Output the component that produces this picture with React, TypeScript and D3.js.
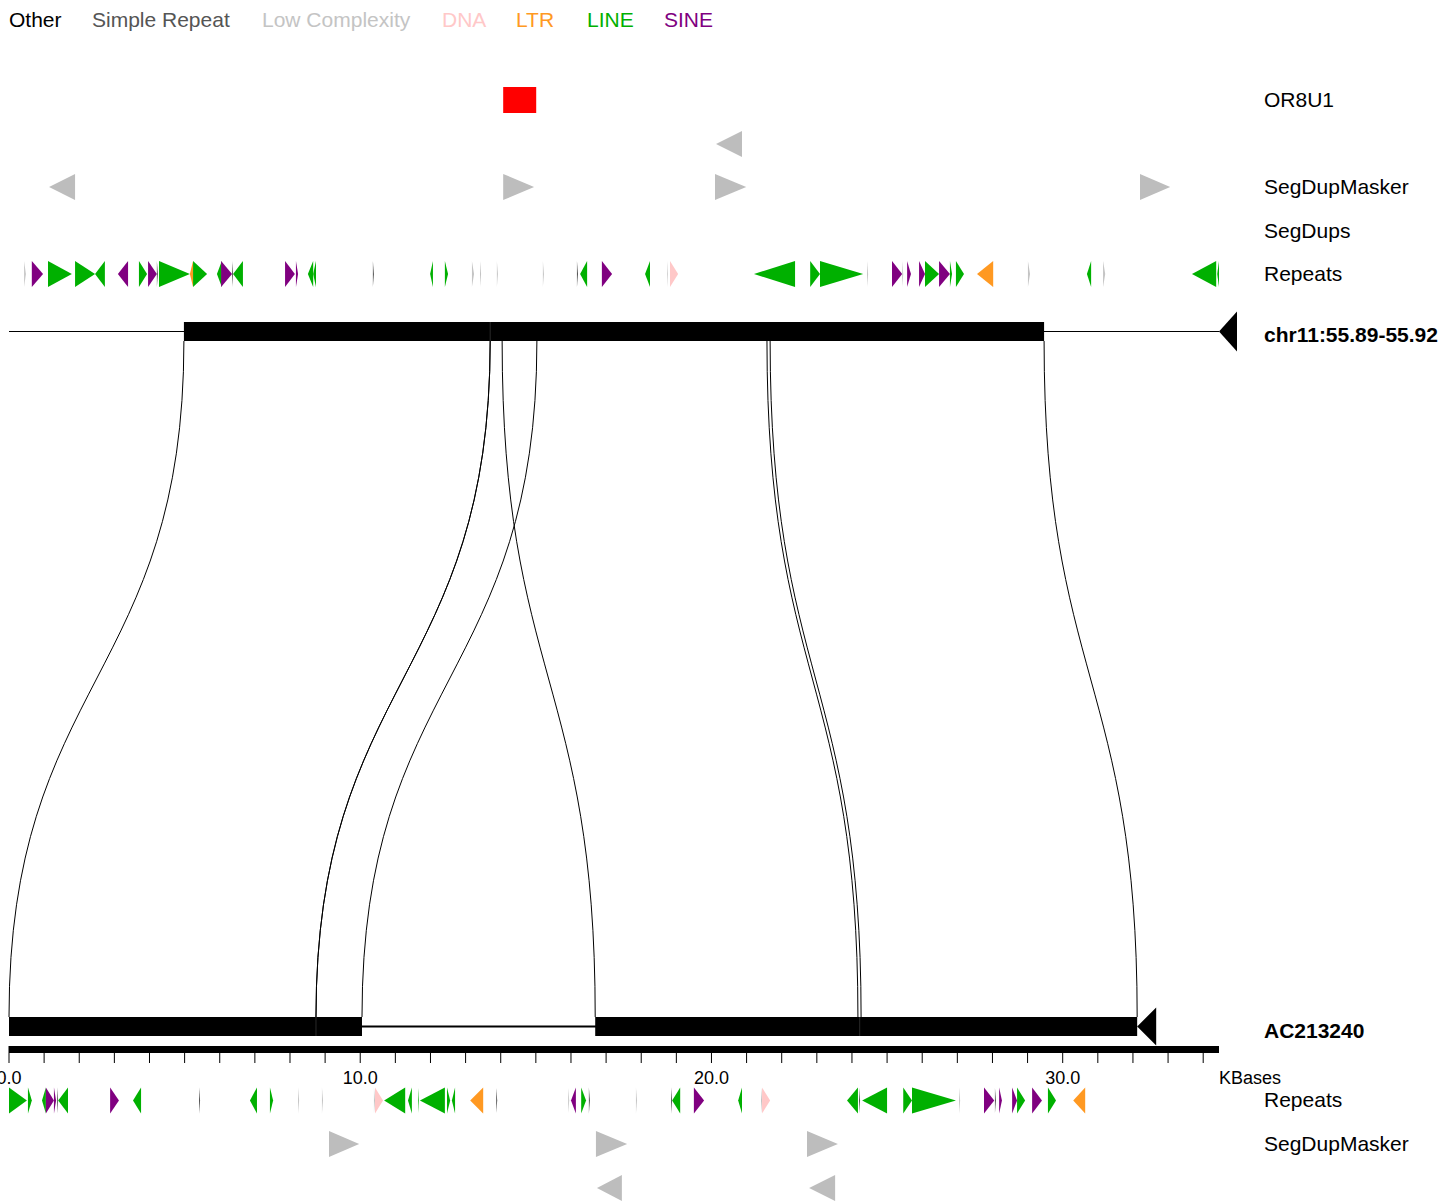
import React from "react";
import * as d3 from "d3";

// ---------- data (kb) ----------
const legendNames = ["Other", "Simple Repeat", "Low Complexity", "DNA", "LTR", "LINE", "SINE"];
const legendColors = ["#000000", "#555555", "#c4c4c4", "#ffc8c8", "#ff9922", "#00b000", "#800080"];
const legendKeys = ["other", "simple", "low", "dna", "ltr", "line", "sine"];

const topLength = 34.45;
const bottomLength = 32.12;
const axisMax = 34.45;
const axisTicks = d3.range(0, 35, 1);
const axisLabels = [0, 10, 20, 30];

// [start, end, strand, type]
const topRepeats: [number, number, string, string][] = [
  [0.43, 0.48, "+", "low"], [0.65, 0.97, "+", "sine"], [1.11, 1.79, "+", "line"], [1.88, 2.45, "+", "line"],
  [2.45, 2.73, "-", "line"], [3.10, 3.39, "-", "sine"], [3.70, 3.93, "+", "line"], [3.96, 4.21, "+", "sine"],
  [4.21, 4.24, "+", "simple"], [4.27, 5.15, "+", "line"], [5.15, 5.24, "-", "ltr"], [5.24, 5.64, "+", "line"],
  [5.92, 6.06, "-", "line"], [6.04, 6.35, "+", "sine"], [6.35, 6.38, "+", "simple"], [6.38, 6.66, "-", "line"],
  [7.86, 8.14, "+", "sine"], [8.17, 8.23, "+", "sine"], [8.51, 8.66, "-", "line"], [8.66, 8.74, "-", "line"],
  [10.36, 10.39, "+", "simple"], [11.99, 12.07, "-", "line"], [12.41, 12.50, "+", "line"], [13.18, 13.24, "+", "low"],
  [13.41, 13.44, "+", "low"], [13.89, 13.92, "+", "low"], [15.20, 15.23, "+", "low"], [16.17, 16.20, "+", "simple"],
  [16.26, 16.46, "-", "line"], [16.88, 17.17, "+", "sine"], [18.11, 18.25, "-", "line"], [18.74, 18.76, "+", "low"],
  [18.82, 19.05, "+", "dna"], [21.21, 22.38, "-", "line"], [22.81, 23.09, "+", "line"], [23.09, 24.32, "+", "line"],
  [24.43, 24.46, "+", "low"], [25.14, 25.43, "+", "sine"], [25.43, 25.46, "+", "low"], [25.57, 25.68, "+", "sine"],
  [25.91, 26.08, "+", "sine"], [26.08, 26.48, "+", "line"], [26.48, 26.79, "+", "sine"], [26.79, 26.85, "+", "line"],
  [26.96, 27.19, "+", "line"], [27.56, 28.02, "-", "ltr"], [29.01, 29.07, "+", "low"], [30.69, 30.81, "-", "line"],
  [31.15, 31.21, "+", "low"], [33.68, 34.37, "-", "line"], [34.40, 34.45, "-", "line"],
];

const bottomRepeats: [number, number, string, string][] = [
  [0.00, 0.51, "+", "line"], [0.54, 0.65, "+", "line"], [0.94, 1.05, "-", "line"], [1.05, 1.28, "+", "sine"],
  [1.28, 1.34, "+", "sine"], [1.37, 1.40, "+", "simple"], [1.40, 1.68, "-", "line"], [2.88, 3.13, "+", "sine"],
  [3.53, 3.76, "-", "line"], [5.41, 5.44, "+", "simple"], [6.86, 7.06, "-", "line"], [7.43, 7.52, "+", "line"],
  [8.23, 8.26, "+", "low"], [8.91, 8.94, "+", "low"], [10.39, 10.42, "+", "low"], [10.42, 10.65, "+", "dna"],
  [10.68, 11.28, "-", "line"], [11.36, 11.47, "-", "line"], [11.65, 11.67, "+", "line"], [11.70, 12.41, "-", "line"],
  [12.47, 12.56, "+", "line"], [12.61, 12.70, "-", "line"], [13.13, 13.50, "-", "ltr"], [13.87, 13.90, "+", "simple"],
  [15.92, 15.95, "+", "low"], [16.00, 16.14, "-", "sine"], [16.29, 16.43, "+", "line"], [16.51, 16.54, "+", "simple"],
  [17.85, 17.88, "+", "low"], [18.85, 18.88, "+", "simple"], [18.88, 19.11, "-", "line"], [19.50, 19.79, "+", "sine"],
  [20.76, 20.87, "-", "line"], [21.41, 21.44, "+", "low"], [21.44, 21.67, "+", "dna"], [23.86, 24.17, "-", "line"],
  [24.20, 24.23, "+", "simple"], [24.29, 25.00, "-", "line"], [25.46, 25.71, "+", "line"], [25.71, 26.96, "+", "line"],
  [27.05, 27.08, "+", "low"], [27.76, 28.05, "+", "sine"], [28.07, 28.10, "+", "simple"], [28.19, 28.27, "+", "sine"],
  [28.56, 28.70, "+", "sine"], [28.70, 28.93, "+", "line"], [29.13, 29.41, "+", "sine"], [29.58, 29.81, "+", "line"],
  [30.30, 30.64, "-", "ltr"],
];

// [start, end, strand, row]
const topSegDupMasker: [number, number, string, number][] = [
  [20.13, 20.87, "-", 0],
  [1.14, 1.88, "-", 1], [14.07, 14.95, "+", 1], [20.10, 20.99, "+", 1], [32.20, 33.06, "+", 1],
];
const bottomSegDupMasker: [number, number, string, number][] = [
  [9.11, 9.97, "+", 0], [16.71, 17.60, "+", 0], [22.72, 23.60, "+", 0],
  [16.74, 17.45, "-", 1], [22.78, 23.52, "-", 1],
];

const genes: [number, number, string][] = [[14.07, 15.01, "OR8U1"]];

// [topStart, topEnd, bottomStart, bottomEnd]
const alignments: [number, number, number, number][] = [
  [4.98, 13.70, 0.00, 8.74],
  [13.70, 15.03, 8.74, 10.05],
  [14.04, 21.58, 16.69, 24.17],
  [21.67, 29.47, 24.26, 32.12],
];

// painted aligned spans on each sequence, with internal block boundaries
const topSpans: [number, number][] = [[4.98, 29.47]];
const topBoundaries = [13.70];
const bottomSpans: [number, number][] = [[0.00, 10.05], [16.69, 32.12]];
const bottomBoundaries = [8.74, 24.22];

const trackLabels: [string, number, boolean][] = [
  ["OR8U1", 100, false], ["SegDupMasker", 187, false], ["SegDups", 231, false], ["Repeats", 274, false],
  ["chr11:55.89-55.92", 335, true], ["AC213240", 1031, true], ["Repeats", 1100, false], ["SegDupMasker", 1144, false],
];

// ---------- component ----------
const FONT = "'Liberation Sans', Arial, Helvetica, sans-serif";

export default function App() {
  const W = 1455, H = 1203;
  const x = d3.scaleLinear().domain([0, axisMax]).range([9, 1219]);
  const colorOf = d3.scaleOrdinal<string, string>().domain(legendKeys).range(legendColors);

  const tri = (s: number, e: number, strand: string, cy: number, h: number) => {
    const x0 = x(s), x1 = x(e);
    const t = cy - h / 2, b = cy + h / 2;
    return strand === "+"
      ? `M${x0},${t}L${x1},${cy}L${x0},${b}Z`
      : `M${x1},${t}L${x0},${cy}L${x1},${b}Z`;
  };

  const topY = 331.5, topBH = 19;
  const botY = 1026.5, botBH = 19;
  const curveTop = topY + topBH / 2, curveBot = botY - botBH / 2;
  const link = (xt: number, xb: number) => {
    const m = (curveTop + curveBot) / 2;
    const p = d3.path();
    p.moveTo(x(xt), curveTop);
    p.bezierCurveTo(x(xt), m, x(xb), m, x(xb), curveBot);
    return p.toString();
  };

  const legendX = [9, 92, 262, 442, 516, 587, 664];

  return (
    <svg width={W} height={H} style={{ position: "absolute", left: 0, top: 0, background: "#fff" }} fontFamily={FONT}>
      {/* legend */}
      {legendNames.map((n, i) => (
        <text key={n} x={legendX[i]} y={27} fontSize={21} fill={legendColors[i]}>{n}</text>
      ))}

      {/* gene */}
      {genes.map((g) => (
        <rect key={g[2]} x={x(g[0])} y={87} width={x(g[1]) - x(g[0])} height={26} fill="#ff0000" />
      ))}

      {/* top SegDupMasker */}
      {topSegDupMasker.map((d, i) => (
        <path key={"tsd" + i} d={tri(d[0], d[1], d[2], d[3] === 0 ? 144 : 187, 26)} fill="#bdbdbd" />
      ))}

      {/* top repeats */}
      {topRepeats.map((d, i) => (
        <path key={"tr" + i} d={tri(d[0], d[1], d[2], 274, 26)} fill={colorOf(d[3])} />
      ))}

      {/* top genome */}
      <line x1={x(0)} x2={x(topLength)} y1={topY} y2={topY} stroke="#000" strokeWidth={1} />
      <path d={`M${x(topLength)},${topY}L${x(topLength) + 18},${topY - 20}L${x(topLength) + 18},${topY + 20}Z`} fill="#000" />
      {topSpans.map((s, i) => (
        <rect key={"ts" + i} x={x(s[0])} y={topY - topBH / 2} width={x(s[1]) - x(s[0])} height={topBH} fill="#000" />
      ))}
      {topBoundaries.map((b, i) => (
        <line key={"tb" + i} x1={x(b)} x2={x(b)} y1={topY - topBH / 2} y2={topY + topBH / 2} stroke="#444" strokeWidth={0.6} />
      ))}

      {/* links */}
      {alignments.map((a, i) => (
        <g key={"lk" + i}>
          <path d={link(a[0], a[2])} fill="none" stroke="#000" strokeWidth={1} />
          <path d={link(a[1], a[3])} fill="none" stroke="#000" strokeWidth={1} />
        </g>
      ))}

      {/* bottom genome */}
      <line x1={x(0)} x2={x(bottomLength)} y1={botY} y2={botY} stroke="#000" strokeWidth={2} />
      <path d={`M${x(bottomLength)},${botY}L${x(bottomLength) + 19},${botY - 19}L${x(bottomLength) + 19},${botY + 19}Z`} fill="#000" />
      {bottomSpans.map((s, i) => (
        <rect key={"bs" + i} x={x(s[0])} y={botY - botBH / 2} width={x(s[1]) - x(s[0])} height={botBH} fill="#000" />
      ))}
      {bottomBoundaries.map((b, i) => (
        <line key={"bb" + i} x1={x(b)} x2={x(b)} y1={botY - botBH / 2} y2={botY + botBH / 2} stroke="#444" strokeWidth={0.6} />
      ))}

      {/* axis */}
      <rect x={x(0)} y={1046} width={x(axisMax) - x(0)} height={7} fill="#000" />
      {axisTicks.map((t) => (
        <line key={"tk" + t} x1={x(t)} x2={x(t)} y1={1046} y2={1063} stroke="#000" strokeWidth={1} />
      ))}
      {axisLabels.map((t) => (
        <text key={"al" + t} x={x(t)} y={1084} fontSize={18} textAnchor="middle" fill="#000">{d3.format(".1f")(t)}</text>
      ))}
      <text x={1219} y={1084} fontSize={18} fill="#000">KBases</text>

      {/* bottom repeats */}
      {bottomRepeats.map((d, i) => (
        <path key={"br" + i} d={tri(d[0], d[1], d[2], 1100.5, 26)} fill={colorOf(d[3])} />
      ))}

      {/* bottom SegDupMasker */}
      {bottomSegDupMasker.map((d, i) => (
        <path key={"bsd" + i} d={tri(d[0], d[1], d[2], d[3] === 0 ? 1144 : 1188, 26)} fill="#bdbdbd" />
      ))}

      {/* track labels */}
      {trackLabels.map(([t, y, b], i) => (
        <text key={"lb" + i} x={1264} y={y + 7} fontSize={21} fontWeight={b ? "bold" : "normal"} fill="#000">{t}</text>
      ))}
    </svg>
  );
}
